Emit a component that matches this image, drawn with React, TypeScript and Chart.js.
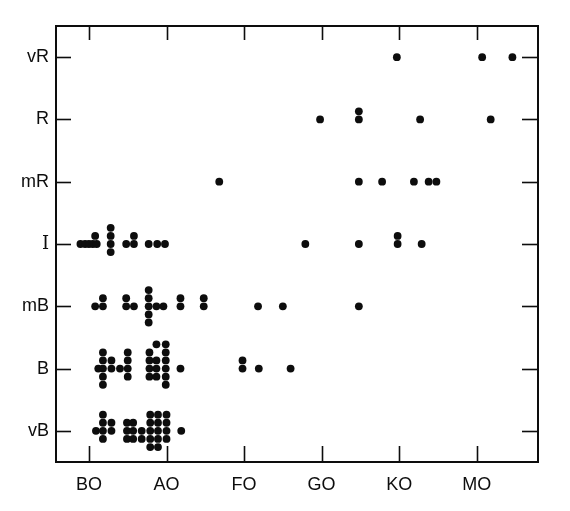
import React, { useEffect, useRef } from "react";
import { Chart, registerables } from "chart.js";

Chart.register(...registerables);

// Category labels (x: index 0..5, y: index 0..6)
const xTickLabels = ["BO", "AO", "FO", "GO", "KO", "MO"];
const yTickLabels = ["vB", "B", "mB", "I", "mR", "R", "vR"];

// Points per row: [x (category units), y (row units)]
const rowVB: [number, number][] = [
  [0.09, 0],
  [0.18, 0.26], [0.18, 0.13], [0.18, 0], [0.18, -0.13],
  [0.29, 0.13], [0.29, 0],
  [0.49, 0.13], [0.49, 0], [0.49, -0.13],
  [0.57, 0.13], [0.57, 0], [0.57, -0.13],
  [0.68, 0], [0.68, -0.13],
  [0.79, 0.26], [0.79, 0.13], [0.79, 0], [0.79, -0.13], [0.79, -0.26],
  [0.89, 0.26], [0.89, 0.13], [0.89, 0], [0.89, -0.13], [0.89, -0.26],
  [1.0, 0.26], [1.0, 0.13], [1.0, 0], [1.0, -0.13],
  [1.19, 0],
];

const rowB: [number, number][] = [
  [0.12, 1],
  [0.18, 1.26], [0.18, 1.13], [0.18, 1], [0.18, 0.87], [0.18, 0.74],
  [0.29, 1.13], [0.29, 1],
  [0.4, 1],
  [0.5, 1.26], [0.5, 1.13], [0.5, 1], [0.5, 0.87],
  [0.78, 1.26], [0.78, 1.13], [0.78, 1], [0.78, 0.87],
  [0.87, 1.39], [0.87, 1.13], [0.87, 1], [0.87, 0.87],
  [0.99, 1.39], [0.99, 1.26], [0.99, 1.13], [0.99, 1], [0.99, 0.87], [0.99, 0.74],
  [1.18, 1],
  [1.98, 1.13], [1.98, 1],
  [2.19, 1],
  [2.6, 1],
];

const rowMB: [number, number][] = [
  [0.08, 2],
  [0.18, 2.13], [0.18, 2],
  [0.48, 2.13], [0.48, 2],
  [0.58, 2],
  [0.77, 2.26], [0.77, 2.13], [0.77, 2], [0.77, 1.87], [0.77, 1.74],
  [0.87, 2], [0.96, 2],
  [1.18, 2.13], [1.18, 2],
  [1.48, 2.13], [1.48, 2],
  [2.18, 2],
  [2.5, 2],
  [3.48, 2],
];

const rowI: [number, number][] = [
  [-0.11, 3], [-0.05, 3], [0, 3], [0.05, 3], [0.1, 3],
  [0.08, 3.13],
  [0.28, 3.26], [0.28, 3.13], [0.28, 3], [0.28, 2.87],
  [0.48, 3],
  [0.58, 3.13], [0.58, 3],
  [0.77, 3], [0.88, 3], [0.98, 3],
  [2.79, 3],
  [3.48, 3],
  [3.98, 3.13], [3.98, 3],
  [4.29, 3],
];

const rowMR: [number, number][] = [
  [1.68, 4], [3.48, 4], [3.78, 4], [4.19, 4], [4.38, 4], [4.48, 4],
];

const rowR: [number, number][] = [
  [2.98, 5], [3.48, 5], [3.48, 5.13], [4.27, 5], [5.18, 5],
];

const rowVR: [number, number][] = [
  [3.97, 6], [5.07, 6], [5.46, 6],
];

const rows = [rowVB, rowB, rowMB, rowI, rowMR, rowR, rowVR];

const INK = "#0d0d0d";

const framePlugin = {
  id: "frame",
  afterDraw(chart: any) {
    const { ctx, chartArea } = chart;
    const { left, right, top, bottom } = chartArea;
    const xs = chart.scales.x;
    const ys = chart.scales.y;
    ctx.save();
    ctx.strokeStyle = INK;
    ctx.lineWidth = 2;
    ctx.strokeRect(left, top, right - left, bottom - top);
    ctx.lineWidth = 1.6;
    const line = (a: number, b: number, c: number, d: number) => {
      ctx.beginPath();
      ctx.moveTo(a, b);
      ctx.lineTo(c, d);
      ctx.stroke();
    };
    xs.ticks.forEach((t: any) => {
      const px = Math.round(xs.getPixelForValue(t.value)) + 0.5;
      line(px, bottom, px, bottom - 16);
      line(px, top, px, top + 14);
    });
    ys.ticks.forEach((t: any) => {
      const py = Math.round(ys.getPixelForValue(t.value)) + 0.5;
      line(left, py, left + 15, py);
      line(right, py, right - 16, py);
    });
    ctx.restore();
  },
};

export default function App() {
  const ref = useRef<HTMLCanvasElement | null>(null);

  useEffect(() => {
    if (!ref.current) return;
    const chart = new Chart(ref.current, {
      type: "scatter",
      data: {
        datasets: rows.map((r) => ({
          data: r.map(([x, y]) => ({ x, y })),
          pointRadius: 3.9,
          pointBackgroundColor: INK,
          pointBorderWidth: 0,
          showLine: false,
        })),
      },
      options: {
        responsive: false,
        animation: false,
        layout: { padding: { top: 26, right: 32, left: 0, bottom: 0 } },
        plugins: {
          legend: { display: false },
          tooltip: { enabled: false },
        },
        scales: {
          x: {
            type: "linear",
            min: -0.425,
            max: 5.79,
            grid: { display: false, drawTicks: false },
            border: { display: false },
            afterBuildTicks: (s: any) => {
              s.ticks = xTickLabels.map((_, i) => ({ value: i }));
            },
            afterFit: (s: any) => {
              s.height = 49;
            },
            ticks: {
              autoSkip: false,
              maxRotation: 0,
              padding: 12,
              color: INK,
              font: { family: "Liberation Sans", size: 18 },
              callback: (v: any) => xTickLabels[Math.round(Number(v))] ?? "",
            },
          },
          y: {
            type: "linear",
            min: -0.5,
            max: 6.5,
            grid: { display: false, drawTicks: false },
            border: { display: false },
            afterBuildTicks: (s: any) => {
              s.ticks = yTickLabels.map((_, i) => ({ value: i }));
            },
            afterFit: (s: any) => {
              s.width = 56;
            },
            ticks: {
              autoSkip: false,
              padding: 7,
              color: INK,
              font: (c: any) =>
                c.tick && yTickLabels[c.tick.value] === "I"
                  ? { family: "DejaVu Serif", size: 18 }
                  : { family: "Liberation Sans", size: 18 },
              callback: (v: any) => yTickLabels[Math.round(Number(v))] ?? "",
            },
          },
        },
      },
      plugins: [framePlugin],
    });
    return () => chart.destroy();
  }, []);

  return (
    <div style={{ position: "fixed", left: 0, top: 0, width: 570, height: 511, background: "#fff" }}>
      <canvas ref={ref} width={570} height={511} style={{ display: "block" }} />
    </div>
  );
}
